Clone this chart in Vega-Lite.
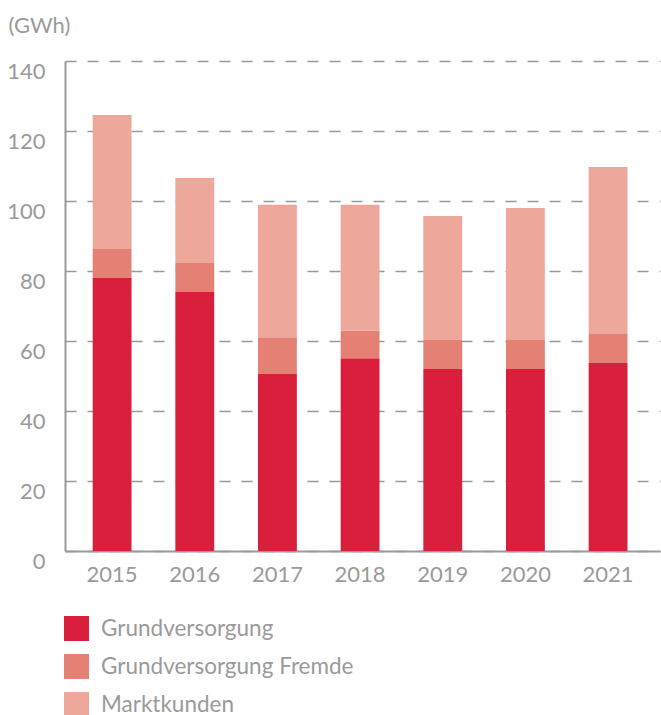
{
  "$schema": "https://vega.github.io/schema/vega-lite/v6.json",
  "autosize": {"type": "none"},
  "width": 595,
  "height": 490,
  "padding": {"left": 65, "top": 61, "right": 1, "bottom": 164},
  "background": "white",
  "config": {
    "view": {"stroke": null},
    "font": "Lato",
    "axis": {"labelFont": "Lato", "titleFont": "Lato", "labelFontWeight": "normal", "titleFontWeight": "normal"},
    "legend": {"labelFont": "Lato", "labelFontWeight": "normal"}
  },
  "data": {
    "values": [
      {"Jahr": "2015", "Kategorie": "Grundversorgung", "o": 1, "GWh": 78.0},
      {"Jahr": "2015", "Kategorie": "Grundversorgung Fremde", "o": 2, "GWh": 8.3},
      {"Jahr": "2015", "Kategorie": "Marktkunden", "o": 3, "GWh": 38.3},
      {"Jahr": "2016", "Kategorie": "Grundversorgung", "o": 1, "GWh": 74.0},
      {"Jahr": "2016", "Kategorie": "Grundversorgung Fremde", "o": 2, "GWh": 8.3},
      {"Jahr": "2016", "Kategorie": "Marktkunden", "o": 3, "GWh": 24.3},
      {"Jahr": "2017", "Kategorie": "Grundversorgung", "o": 1, "GWh": 50.6},
      {"Jahr": "2017", "Kategorie": "Grundversorgung Fremde", "o": 2, "GWh": 10.5},
      {"Jahr": "2017", "Kategorie": "Marktkunden", "o": 3, "GWh": 37.8},
      {"Jahr": "2018", "Kategorie": "Grundversorgung", "o": 1, "GWh": 55.1},
      {"Jahr": "2018", "Kategorie": "Grundversorgung Fremde", "o": 2, "GWh": 7.8},
      {"Jahr": "2018", "Kategorie": "Marktkunden", "o": 3, "GWh": 36.0},
      {"Jahr": "2019", "Kategorie": "Grundversorgung", "o": 1, "GWh": 52.0},
      {"Jahr": "2019", "Kategorie": "Grundversorgung Fremde", "o": 2, "GWh": 8.3},
      {"Jahr": "2019", "Kategorie": "Marktkunden", "o": 3, "GWh": 35.4},
      {"Jahr": "2020", "Kategorie": "Grundversorgung", "o": 1, "GWh": 52.0},
      {"Jahr": "2020", "Kategorie": "Grundversorgung Fremde", "o": 2, "GWh": 8.3},
      {"Jahr": "2020", "Kategorie": "Marktkunden", "o": 3, "GWh": 37.7},
      {"Jahr": "2021", "Kategorie": "Grundversorgung", "o": 1, "GWh": 53.7},
      {"Jahr": "2021", "Kategorie": "Grundversorgung Fremde", "o": 2, "GWh": 8.3},
      {"Jahr": "2021", "Kategorie": "Marktkunden", "o": 3, "GWh": 47.7}
    ]
  },
  "mark": {"type": "bar"},
  "encoding": {
    "x": {
      "field": "Jahr",
      "type": "ordinal",
      "scale": {"paddingInner": 0.53, "paddingOuter": 0.364, "align": 0.46},
      "axis": {
        "title": null,
        "labelAngle": 0,
        "labelFontSize": 22,
        "labelColor": "#9a9a9a",
        "labelPadding": 13,
        "ticks": false,
        "domainColor": "#9a9a9a",
        "domainWidth": 2,
        "grid": false
      }
    },
    "y": {
      "field": "GWh",
      "type": "quantitative",
      "stack": "zero",
      "scale": {"domain": [0, 140], "nice": false},
      "axis": {
        "values": [0, 20, 40, 60, 80, 100, 120, 140],
        "title": "(GWh)",
        "titleAngle": 0,
        "titleX": -57,
        "titleY": -36,
        "titleAlign": "left",
        "titleBaseline": "middle",
        "titleFontSize": 22,
        "titleColor": "#9a9a9a",
        "labelFontSize": 22,
        "labelColor": "#9a9a9a",
        "labelPadding": 20,
        "labelOffset": 10,
        "ticks": false,
        "domainColor": "#9a9a9a",
        "domainWidth": 2,
        "grid": true,
        "gridColor": "#999999",
        "gridWidth": 1.5,
        "gridDash": [11, 11]
      }
    },
    "color": {
      "field": "Kategorie",
      "type": "nominal",
      "scale": {
        "domain": ["Grundversorgung", "Grundversorgung Fremde", "Marktkunden"],
        "range": ["#DA1F3D", "#E58075", "#EDA89B"]
      },
      "legend": {
        "title": null,
        "orient": "none",
        "legendX": -1,
        "legendY": 555,
        "direction": "vertical",
        "symbolType": "square",
        "symbolSize": 625,
        "symbolStrokeWidth": 0,
        "symbolOpacity": 1,
        "labelFontSize": 22.5,
        "labelColor": "#9a9a9a",
        "labelOffset": 12,
        "labelLimit": 400,
        "rowPadding": 13
      }
    },
    "order": {"field": "o", "type": "quantitative"}
  }
}
